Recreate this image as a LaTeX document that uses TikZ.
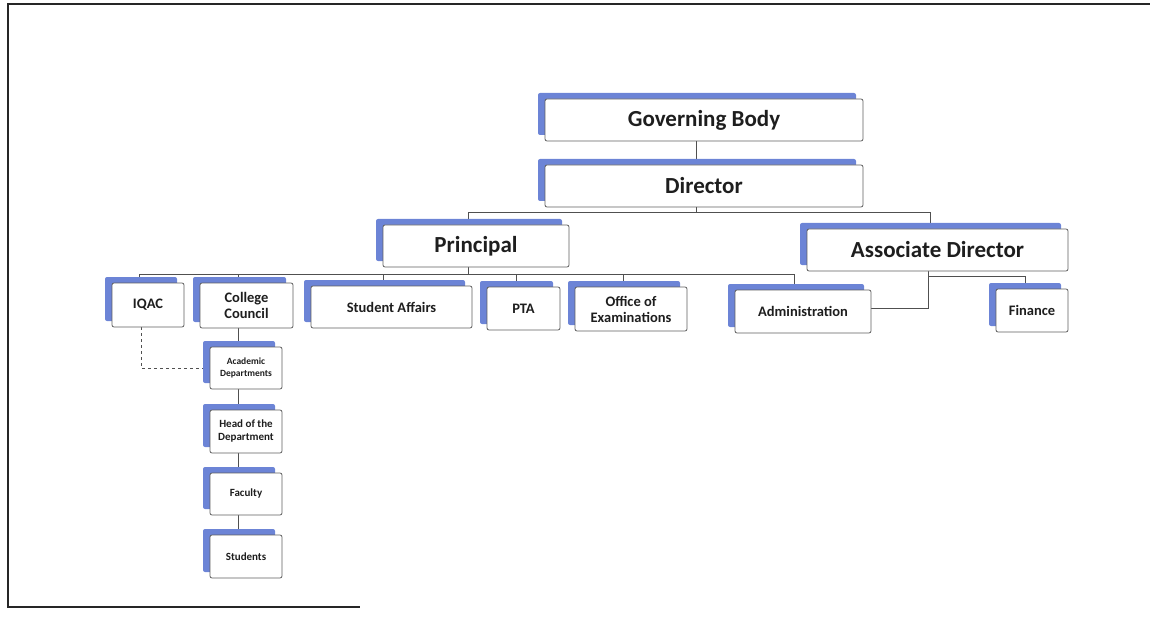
\documentclass[tikz,border=0pt]{standalone}
\usepackage{fontspec}
\setmainfont{Carlito}
\usetikzlibrary{shadows,backgrounds}
\definecolor{shadowblue}{RGB}{108,132,214}
\definecolor{boxline}{RGB}{95,95,95}
\definecolor{linec}{RGB}{80,80,80}
\definecolor{textc}{RGB}{30,30,30}
\begin{document}
\begin{tikzpicture}[x=1pt,y=-1pt,
  orgbox/.style={draw=boxline, fill=white, rounded corners=2pt, line width=0.8pt,
    general shadow={fill=shadowblue, shadow xshift=-7pt, shadow yshift=6pt},
    inner sep=0pt, align=center, text=textc},
  bigtxt/.style={font=\fontsize{23}{27}\selectfont\bfseries},
  midtxt/.style={font=\fontsize{14.5}{16}\selectfont\bfseries},
  smalltxt/.style={font=\fontsize{11}{13}\selectfont\bfseries},
  tinytxt/.style={font=\fontsize{9.5}{11.5}\selectfont\bfseries},
  conn/.style={draw=linec, line width=0.8pt},
  frame/.style={draw=black!85, line width=1.6pt}]
\useasboundingbox (0,0) rectangle (1150,620);
% page frame
\draw[frame] (1150,4) -- (8,4) -- (8,607) -- (360,607);

% nodes
\path
 (704,120)   node[orgbox,bigtxt,minimum width=318,minimum height=42] (GB) {Governing Body}
 (704,186)   node[orgbox,bigtxt,minimum width=318,minimum height=42] (Dir) {Director}
 (476,246)   node[orgbox,bigtxt,minimum width=186,minimum height=42] (Prin) {Principal}
 (937.5,250) node[orgbox,bigtxt,minimum width=261,minimum height=42] (AD) {Associate Director}
 (148,305)   node[orgbox,midtxt,minimum width=72,minimum height=44] (IQAC) {IQAC}
 (246.5,305.5) node[orgbox,midtxt,minimum width=93,minimum height=45] (CC) {College\\Council}
 (391.5,307) node[orgbox,midtxt,minimum width=161,minimum height=42] (SA) {Student Affairs}
 (523.5,308.5) node[orgbox,midtxt,minimum width=73,minimum height=43] (PTA) {PTA}
 (631,309)   node[orgbox,midtxt,minimum width=112,minimum height=44] (OE) {Office of\\Examinations}
 (803,311.5) node[orgbox,midtxt,minimum width=136,minimum height=43] (Adm) {Administration}
 (1032,310.5) node[orgbox,midtxt,minimum width=72,minimum height=43] (Fin) {Finance}
 (246,368)   node[orgbox,tinytxt,minimum width=72,minimum height=42] (AcD) {Academic\\Departments}
 (246,431.5) node[orgbox,smalltxt,minimum width=72,minimum height=43] (HoD) {Head of the\\Department}
 (246,494)   node[orgbox,smalltxt,minimum width=72,minimum height=42] (Fac) {Faculty}
 (246,556.5) node[orgbox,smalltxt,minimum width=72,minimum height=43] (Stu) {Students};

% connectors, behind the boxes
\begin{scope}[on background layer]
\draw[conn] ([xshift=-8pt]GB.south) -- ([xshift=-8pt]Dir.north);
% Director to Principal and Associate Director
\draw[conn] ([xshift=-8pt]Dir.south) -- ++(0,5) coordinate (dj);
\draw[conn] (dj) -| ([xshift=-8pt]Prin.north);
\draw[conn] (dj) -| ([xshift=-7.5pt]AD.north);
% Principal to its units
\draw[conn] ([xshift=-8pt]Prin.south) -- ++(0,7) coordinate (pj);
\draw[conn] (pj) -| ([xshift=-9pt]IQAC.north);
\draw[conn] (pj) -| ([xshift=-8.5pt]CC.north);
\draw[conn] (pj) -| ([xshift=-8.5pt]SA.north);
\draw[conn] (pj) -| ([xshift=-7.5pt]PTA.north);
\draw[conn] (pj) -| ([xshift=-8pt]OE.north);
\draw[conn] (pj) -| ([xshift=-9pt]Adm.north);
% Associate Director to Administration and Finance
\draw[conn] ([xshift=-9.5pt]AD.south) |- ([yshift=3pt]Adm.east);
\draw[conn] ([xshift=-9.5pt]AD.south) ++(0,5) -| ([xshift=-7pt]Fin.north);
% academic column
\draw[conn] ([xshift=-8.5pt]CC.south) -- ([xshift=-8pt]AcD.north);
\draw[conn] ([xshift=-8pt]AcD.south) -- ([xshift=-8pt]HoD.north);
\draw[conn] ([xshift=-8pt]HoD.south) -- ([xshift=-8pt]Fac.north);
\draw[conn] ([xshift=-8pt]Fac.south) -- ([xshift=-8pt]Stu.north);
% IQAC dashed link
\draw[conn,dashed] ([xshift=-7pt]IQAC.south) |- (AcD.west);
\end{scope}
\end{tikzpicture}
\end{document}
